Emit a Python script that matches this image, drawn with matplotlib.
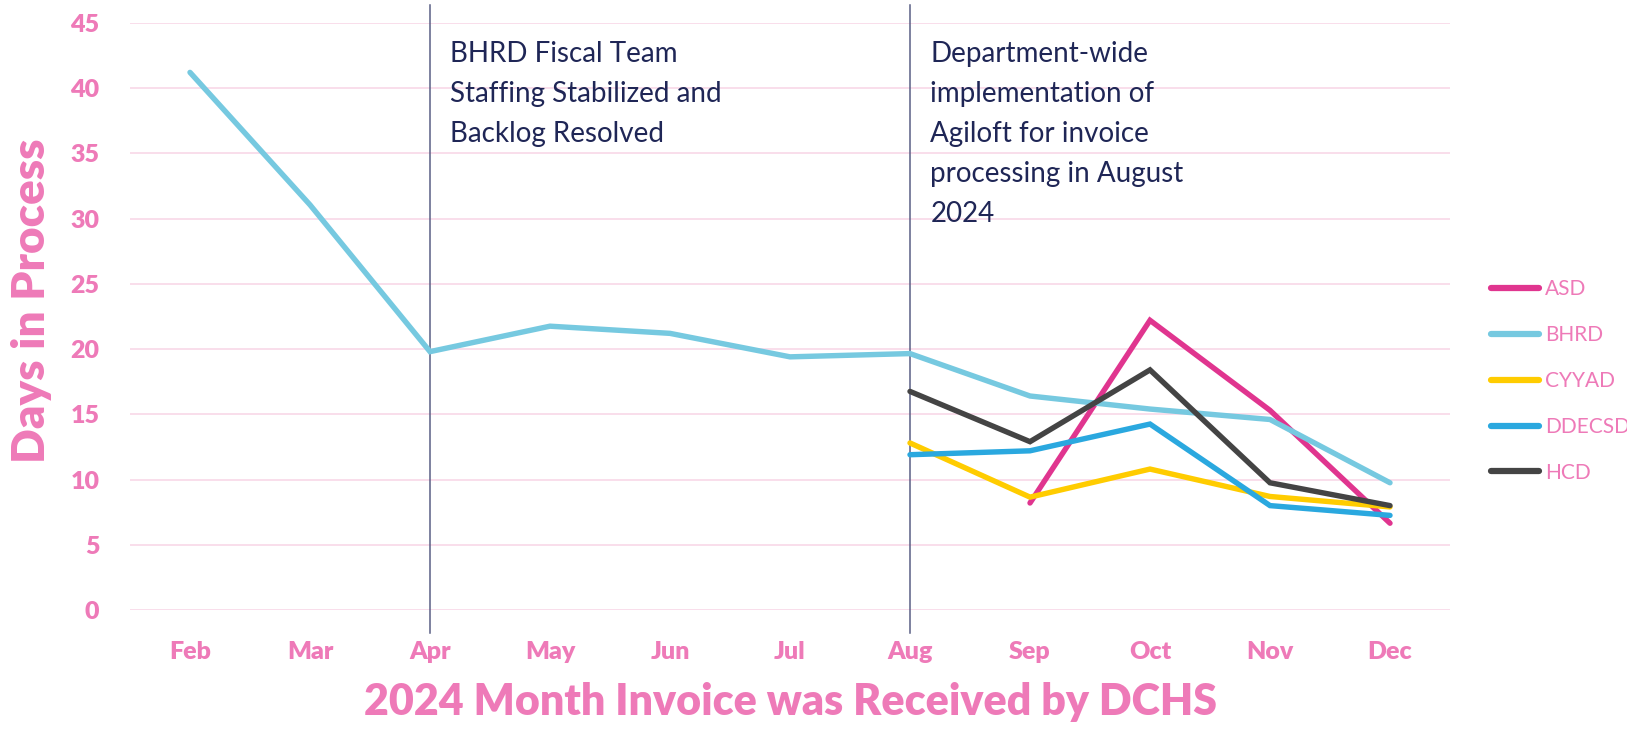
import matplotlib
matplotlib.use("Agg")
import matplotlib.pyplot as plt
import numpy as np

months = ["Feb", "Mar", "Apr", "May", "Jun", "Jul", "Aug", "Sep", "Oct", "Nov", "Dec"]
nan = np.nan
asd = [nan, nan, nan, nan, nan, nan, nan, 8.2, 22.2, 15.3, 6.65]
bhrd = [41.2, 31.05, 19.8, 21.75, 21.2, 19.4, 19.65, 16.4, 15.4, 14.6, 9.75]
cyyad = [nan, nan, nan, nan, nan, nan, 12.8, 8.65, 10.8, 8.7, 7.9]
ddecsd = [nan, nan, nan, nan, nan, nan, 11.9, 12.2, 14.25, 8.0, 7.25]
hcd = [nan, nan, nan, nan, nan, nan, 16.75, 12.9, 18.4, 9.75, 8.0]
series_names = ["ASD", "BHRD", "CYYAD", "DDECSD", "HCD"]
series_colors = ["#e0358f", "#76c9e0", "#ffcc00", "#2aa8df", "#444444"]
yticks = [0, 5, 10, 15, 20, 25, 30, 35, 40, 45]
note1 = "BHRD Fiscal Team\nStaffing Stabilized and\nBacklog Resolved"
note2 = "Department-wide\nimplementation of\nAgiloft for invoice\nprocessing in August\n2024"

pink = "#ee7ab8"
navy = "#1f2656"
font = "Lato"
plt.rcParams["font.family"] = [font, "DejaVu Sans"]

fig = plt.figure(figsize=(16.27, 7.32), dpi=100)
ax = fig.add_axes([130/1627, 1-610/732, 1320/1627, (610-22.8)/732])

x = np.arange(len(months))
for name, vals, col in zip(series_names, [asd, bhrd, cyyad, ddecsd, hcd], series_colors):
    ax.plot(x, vals, color=col, lw=3.9, label=name, solid_capstyle="round", solid_joinstyle="miter")

ax.set_xlim(-0.5, len(months) - 0.5)
ax.set_ylim(0, 45)
ax.set_yticks(yticks, labels=[str(v) for v in yticks], fontweight="heavy", fontsize=18, color=pink)
ax.set_xticks(x, labels=months, fontweight="heavy", fontsize=18, color=pink)
ax.grid(axis="y", color="#f9dbe9", lw=1.3)
ax.set_axisbelow(True)
for s in ax.spines.values():
    s.set_visible(False)
ax.tick_params(length=0, pad=22)

for xi in [2, 6]:
    ax.axvline(xi, ymin=-0.04, ymax=1.03, color="#5a5f85", lw=1.1, clip_on=False, zorder=1)

ax.text(2.17, 43.6, note1, color=navy, fontsize=20, va="top", ha="left", linespacing=1.66)
ax.text(6.17, 43.6, note2, color=navy, fontsize=20, va="top", ha="left", linespacing=1.66)

ax.set_ylabel("Days in Process", color=pink, fontsize=33, fontweight="heavy")
ax.yaxis.set_label_coords(-0.059, 0.526)
ax.set_xlabel("2024 Month Invoice was Received by DCHS", color=pink, fontsize=31,
              fontweight="heavy", labelpad=14)

leg = fig.legend(loc="center left", bbox_to_anchor=(1491/1627, 1-381/732), frameon=False,
                 handlelength=2.3, handletextpad=0.3, labelspacing=1.24, borderpad=0,
                 borderaxespad=0, prop={"family": font, "size": 15})
for t in leg.get_texts():
    t.set_color(pink)
for h in leg.get_lines():
    h.set_linewidth(4.5)
    h.set_solid_capstyle("round")

fig.savefig("out.png", dpi=100)
